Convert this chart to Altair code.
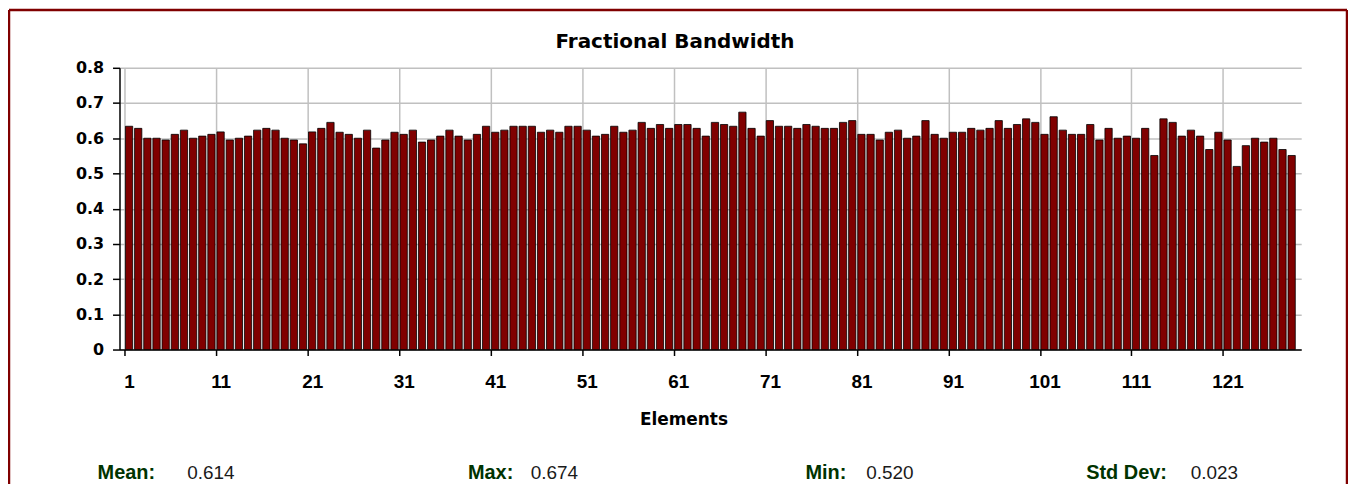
import altair as alt
import pandas as pd

# ---- data ----
elements = list(range(1, 129))
bandwidth = [
    0.634, 0.628, 0.600, 0.600, 0.595, 0.611, 0.623, 0.600, 0.606, 0.611,
    0.618, 0.595, 0.600, 0.606, 0.623, 0.628, 0.623, 0.600, 0.595, 0.584,
    0.618, 0.628, 0.645, 0.617, 0.611, 0.600, 0.623, 0.572, 0.595, 0.617,
    0.611, 0.623, 0.589, 0.595, 0.606, 0.623, 0.606, 0.595, 0.611, 0.634,
    0.617, 0.623, 0.634, 0.634, 0.634, 0.617, 0.623, 0.617, 0.634, 0.634,
    0.623, 0.606, 0.611, 0.634, 0.617, 0.623, 0.645, 0.628, 0.639, 0.628,
    0.639, 0.639, 0.628, 0.606, 0.645, 0.639, 0.634, 0.674, 0.628, 0.606,
    0.650, 0.634, 0.634, 0.628, 0.639, 0.634, 0.628, 0.628, 0.645, 0.650,
    0.611, 0.611, 0.595, 0.617, 0.623, 0.600, 0.606, 0.650, 0.611, 0.600,
    0.617, 0.617, 0.628, 0.623, 0.628, 0.650, 0.628, 0.639, 0.655, 0.645,
    0.611, 0.661, 0.623, 0.611, 0.611, 0.639, 0.595, 0.628, 0.600, 0.606,
    0.600, 0.628, 0.551, 0.655, 0.645, 0.606, 0.623, 0.606, 0.568, 0.617,
    0.595, 0.520, 0.579, 0.600, 0.589, 0.600, 0.568, 0.551,
]
x_tick_values = [0.5, 10.5, 20.5, 30.5, 40.5, 50.5, 60.5, 70.5, 80.5, 90.5, 100.5, 110.5, 120.5]
y_tick_values = [0, 0.1, 0.2, 0.3, 0.4, 0.5, 0.6, 0.7, 0.8]

stat_labels = ["Mean:", "Max:", "Min:", "Std Dev:"]
stat_values = ["0.614", "0.674", "0.520", "0.023"]

chart_title = "Fractional Bandwidth"
x_title = "Elements"

# ---- layout (pixels, relative to the plot area) ----
PLOT_W, PLOT_H = 1187, 283
stat_label_x = [-22, 350, 689, 971]
stat_value_x = [68, 413, 750, 1076]
stat_y = 413
BORDER_L, BORDER_T, BORDER_R, BORDER_B = -111, -58, 1233, 430
DARK_RED = "#800000"

df = pd.DataFrame({"element": elements, "value": bandwidth})
one = pd.DataFrame({"k": [0]})

bars = alt.Chart(df).mark_bar(
    size=7.3, color=DARK_RED, stroke="black", strokeWidth=0.8
).encode(
    x=alt.X(
        "element:Q",
        scale=alt.Scale(domain=[0.5, 128.5], nice=False, zero=False),
        axis=alt.Axis(
            values=x_tick_values,
            labelExpr="format(datum.value + 0.5, 'd')",
            labelOffset=PLOT_W / 128 / 2,
            labelFlush=False,
            labelFont="Liberation Sans",
            labelFontSize=19,
            labelFontWeight="bold",
            labelColor="black",
            labelPadding=17,
            tickSize=6,
            tickColor="black",
            tickWidth=1.5,
            domainColor="black",
            domainWidth=1.5,
            grid=True,
            gridColor="#c0c0c0",
            gridWidth=1.5,
            title=None,
        ),
    ),
    y=alt.Y(
        "value:Q",
        scale=alt.Scale(domain=[0, 0.8], nice=False),
        axis=alt.Axis(
            values=y_tick_values,
            labelExpr="datum.value == 0 ? '0' : format(datum.value, '.1f')",
            labelFont="DejaVu Sans",
            labelFontSize=16,
            labelFontWeight="bold",
            labelColor="black",
            labelPadding=9,
            tickSize=7,
            tickColor="black",
            tickWidth=1.5,
            domainColor="black",
            domainWidth=1.5,
            grid=True,
            gridColor="#c0c0c0",
            gridWidth=1.5,
            title=None,
        ),
    ),
)

layers = [bars]

# title
layers.append(
    alt.Chart(pd.DataFrame({"t": [chart_title]})).mark_text(
        font="DejaVu Sans", fontSize=20, fontWeight="bold", color="black",
        align="center", baseline="alphabetic",
    ).encode(text="t:N", x=alt.value(558), y=alt.value(-20))
)
# x axis title
layers.append(
    alt.Chart(pd.DataFrame({"t": [x_title]})).mark_text(
        font="DejaVu Sans", fontSize=17, fontWeight="bold", color="black",
        align="center", baseline="alphabetic",
    ).encode(text="t:N", x=alt.value(567), y=alt.value(359))
)
# stats row
for lab, val, lx, vx in zip(stat_labels, stat_values, stat_label_x, stat_value_x):
    layers.append(
        alt.Chart(pd.DataFrame({"t": [lab]})).mark_text(
            font="Liberation Sans", fontSize=20, fontWeight="bold", color="#003300",
            align="left", baseline="alphabetic",
        ).encode(text="t:N", x=alt.value(lx), y=alt.value(stat_y))
    )
    layers.append(
        alt.Chart(pd.DataFrame({"t": [val]})).mark_text(
            font="Liberation Sans", fontSize=19, color="#1a1a1a",
            align="left", baseline="alphabetic",
        ).encode(text="t:N", x=alt.value(vx), y=alt.value(stat_y))
    )

# outer frame (left, top, right)
layers.append(alt.Chart(one).mark_rule(color=DARK_RED, strokeWidth=2.5).encode(
    x=alt.value(BORDER_L), y=alt.value(BORDER_T), y2=alt.value(BORDER_B)))
layers.append(alt.Chart(one).mark_rule(color=DARK_RED, strokeWidth=2.5).encode(
    x=alt.value(BORDER_L), x2=alt.value(BORDER_R), y=alt.value(BORDER_T)))
layers.append(alt.Chart(one).mark_rule(color=DARK_RED, strokeWidth=2.5).encode(
    x=alt.value(BORDER_R), y=alt.value(BORDER_T), y2=alt.value(BORDER_B)))

chart = alt.layer(*layers).properties(
    width=PLOT_W,
    height=PLOT_H,
    autosize=alt.AutoSizeParams(type="none"),
    padding={"left": 112, "top": 59, "right": 47, "bottom": 134},
    background="white",
).configure_view(strokeWidth=0)

chart.save("out.html", embed_options={"renderer": "svg", "actions": False})
